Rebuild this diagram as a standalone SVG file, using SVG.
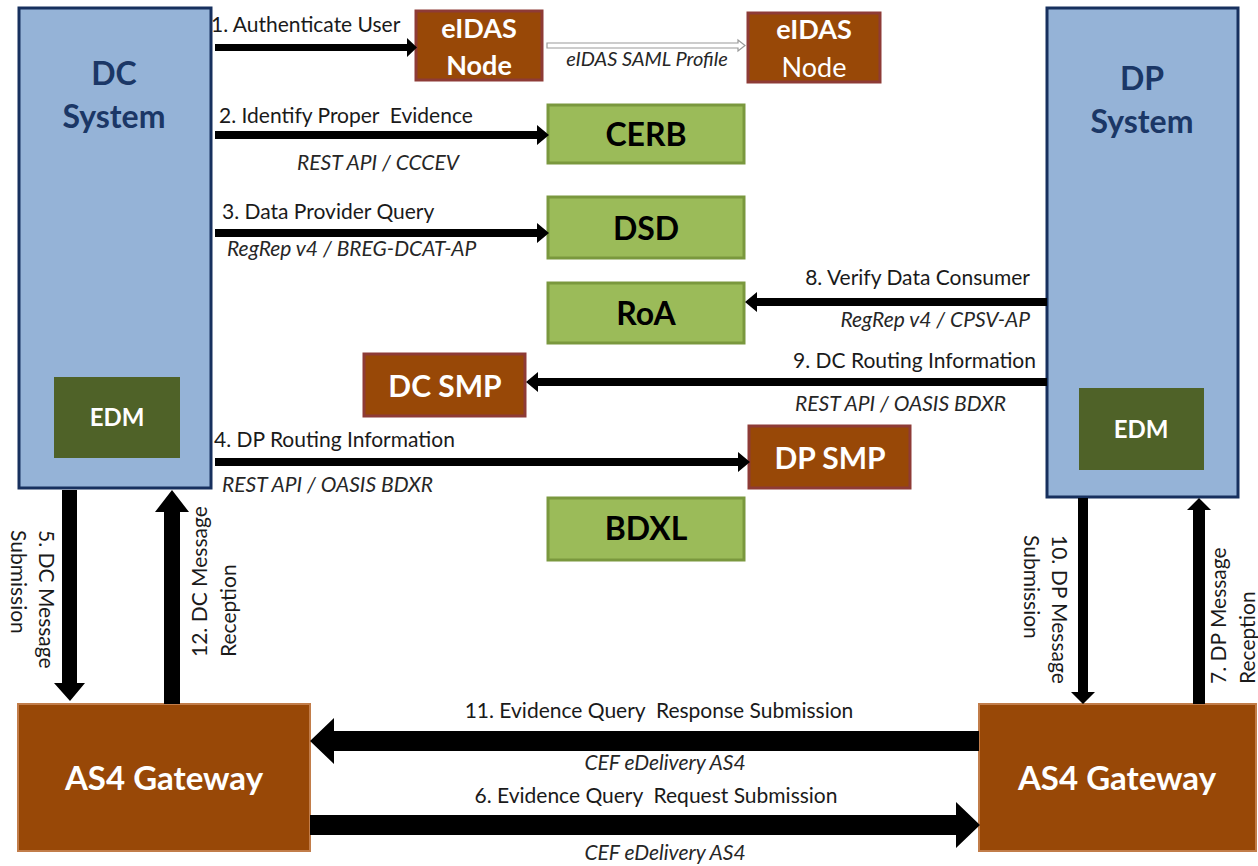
<svg xmlns="http://www.w3.org/2000/svg" width="1258" height="866" viewBox="0 0 1258 866">
  <style>
    text { font-family: Lato, "Open Sans", "Liberation Sans", sans-serif; }
    .sys { fill: #95b3d7; stroke: #17305e; stroke-width: 3; }
    .sysT { fill: #1b3766; font-size: 32px; font-weight: bold; text-anchor: middle; }
    .edm { fill: #4f6228; }
    .edmT { fill: #ffffff; font-size: 24px; font-weight: bold; text-anchor: middle; }
    .brown { fill: #984807; stroke: #8e3b36; stroke-width: 3; }
    .gw { fill: #984807; stroke: #c27d4a; stroke-width: 2; }
    .green { fill: #9bbb59; stroke: #7a983e; stroke-width: 3; }
    .wT { fill: #ffffff; font-size: 30px; font-weight: bold; text-anchor: middle; }
    .bT { fill: #000000; font-size: 32px; font-weight: bold; text-anchor: middle; }
    .lbl { fill: #1a1a1a; font-size: 21px; white-space: pre; }
    .proto { fill: #262626; font-size: 21px; font-style: italic; white-space: pre; }
    .arrow { fill: #000000; }
    .hollow { fill: #ffffff; stroke: #9a9a9a; stroke-width: 1.2; }
  </style>

  <!-- Data Consumer system -->
  <g id="dc-system">
    <rect class="sys" x="19" y="8" width="192" height="480"/>
    <text class="sysT" x="114" y="85">DC</text>
    <text class="sysT" x="114" y="128">System</text>
  </g>
  <g id="dc-edm">
    <rect class="edm" x="54" y="377" width="126" height="81"/>
    <text class="edmT" x="117" y="426">EDM</text>
  </g>

  <!-- Data Provider system -->
  <g id="dp-system">
    <rect class="sys" x="1047" y="8" width="191" height="489"/>
    <text class="sysT" x="1142" y="90">DP</text>
    <text class="sysT" x="1142" y="133">System</text>
  </g>
  <g id="dp-edm">
    <rect class="edm" x="1079" y="388" width="125" height="82"/>
    <text class="edmT" x="1141" y="438">EDM</text>
  </g>

  <!-- eIDAS nodes -->
  <g id="eidas-node-dc">
    <rect class="brown" x="416" y="11" width="126" height="69"/>
    <text class="wT" x="479" y="38" style="font-size:27px">eIDAS</text>
    <text class="wT" x="479" y="75" style="font-size:27px">Node</text>
  </g>
  <g id="eidas-node-dp">
    <rect class="brown" x="748" y="13" width="132" height="69"/>
    <text class="wT" x="814" y="39" style="font-size:27px">eIDAS</text>
    <text class="wT" x="814" y="77" style="font-size:27px;font-weight:normal">Node</text>
  </g>

  <!-- Common services -->
  <g id="cerb">
    <rect class="green" x="548" y="105" width="196" height="58"/>
    <text class="bT" x="646" y="146">CERB</text>
  </g>
  <g id="dsd">
    <rect class="green" x="548" y="197" width="196" height="61"/>
    <text class="bT" x="646" y="240">DSD</text>
  </g>
  <g id="roa">
    <rect class="green" x="548" y="283" width="196" height="60"/>
    <text class="bT" x="646" y="325">RoA</text>
  </g>
  <g id="dc-smp">
    <rect class="brown" x="364" y="354" width="161" height="62"/>
    <text class="wT" x="445" y="397">DC SMP</text>
  </g>
  <g id="dp-smp">
    <rect class="brown" x="749" y="426" width="161" height="62"/>
    <text class="wT" x="830" y="469">DP SMP</text>
  </g>
  <g id="bdxl">
    <rect class="green" x="548" y="498" width="196" height="62"/>
    <text class="bT" x="646" y="540">BDXL</text>
  </g>

  <!-- Access points -->
  <g id="as4-dc">
    <rect class="gw" x="18" y="704" width="292" height="147"/>
    <text class="wT" x="164" y="790" style="font-size:33px">AS4 Gateway</text>
  </g>
  <g id="as4-dp">
    <rect class="gw" x="979" y="704" width="277" height="147"/>
    <text class="wT" x="1117" y="790" style="font-size:33px">AS4 Gateway</text>
  </g>

  <!-- Connectors -->
  <g id="connectors">
    <!-- 1. Authenticate User -->
    <polygon class="arrow" points="215,44 407,44 407,38 417,47.5 407,57 407,51 215,51"/>
    <!-- eIDAS SAML profile link -->
    <polygon class="hollow" points="547,43 738,43 738,40 745,45.5 738,51 738,48 547,48"/>
    <!-- 2. Identify Proper Evidence -->
    <polygon class="arrow" points="215,131 537,131 537,125 549,135 537,145 537,139 215,139"/>
    <!-- 3. Data Provider Query -->
    <polygon class="arrow" points="215,229 537,229 537,223 549,233 537,243 537,237 215,237"/>
    <!-- 8. Verify Data Consumer -->
    <polygon class="arrow" points="1047,298 757,298 757,292 745,302 757,312 757,306 1047,306"/>
    <!-- 9. DC Routing Information -->
    <polygon class="arrow" points="1047,378 538,378 538,372 526,382 538,392 538,386 1047,386"/>
    <!-- 4. DP Routing Information -->
    <polygon class="arrow" points="215,458 738,458 738,452 750,462 738,472 738,466 215,466"/>

    <!-- 5. DC Message Submission -->
    <polygon class="arrow" points="62,490 77,490 77,683 85,683 70,701 54,683 62,683"/>
    <!-- 12. DC Message Reception -->
    <polygon class="arrow" points="164,704 180,704 180,512 189,512 172,490 155,512 164,512"/>
    <!-- 10. DP Message Submission -->
    <polygon class="arrow" points="1078,498 1088,498 1088,692 1095,692 1083,704 1071,692 1078,692"/>
    <!-- 7. DP Message Reception -->
    <polygon class="arrow" points="1193,704 1205,704 1205,510 1211,510 1199,498 1187,510 1193,510"/>

    <!-- 11. Evidence Query Response Submission -->
    <polygon class="arrow" points="979,731 334,731 334,718 310,741 334,764 334,751 979,751"/>
    <!-- 6. Evidence Query Request Submission -->
    <polygon class="arrow" points="310,815 956,815 956,802 980,825 956,848 956,835 310,835"/>

    <!-- connector labels -->
    <text class="lbl" x="211" y="32">1. Authenticate User</text>
    <text class="proto" x="647" y="66" text-anchor="middle" style="font-size:20px">eIDAS SAML Profile</text>
    <text class="lbl" x="219" y="123">2. Identify Proper  Evidence</text>
    <text class="proto" x="378" y="170" text-anchor="middle">REST API / CCCEV</text>
    <text class="lbl" x="222" y="219">3. Data Provider Query</text>
    <text class="proto" x="227" y="256">RegRep v4 / BREG-DCAT-AP</text>
    <text class="lbl" x="1030" y="285" text-anchor="end">8. Verify Data Consumer</text>
    <text class="proto" x="1030" y="327" text-anchor="end">RegRep v4 / CPSV-AP</text>
    <text class="lbl" x="1036" y="368" text-anchor="end">9. DC Routing Information</text>
    <text class="proto" x="1006" y="411" text-anchor="end">REST API / OASIS BDXR</text>
    <text class="lbl" x="214" y="447">4. DP Routing Information</text>
    <text class="proto" x="222" y="492">REST API / OASIS BDXR</text>

    <text class="lbl" transform="translate(39,530) rotate(90)">5. DC Message<tspan x="0" dy="28">Submission</tspan></text>
    <text class="lbl" transform="translate(207,657) rotate(-90)">12. DC Message<tspan x="0" dy="29">Reception</tspan></text>
    <text class="lbl" transform="translate(1052,535) rotate(90)">10. DP Message<tspan x="0" dy="28">Submission</tspan></text>
    <text class="lbl" transform="translate(1226,684) rotate(-90)">7. DP Message<tspan x="0" dy="29">Reception</tspan></text>

    <text class="lbl" x="659" y="718" text-anchor="middle">11. Evidence Query  Response Submission</text>
    <text class="proto" x="665" y="770" text-anchor="middle">CEF eDelivery AS4</text>
    <text class="lbl" x="656" y="803" text-anchor="middle">6. Evidence Query  Request Submission</text>
    <text class="proto" x="665" y="860" text-anchor="middle">CEF eDelivery AS4</text>
  </g>
</svg>
